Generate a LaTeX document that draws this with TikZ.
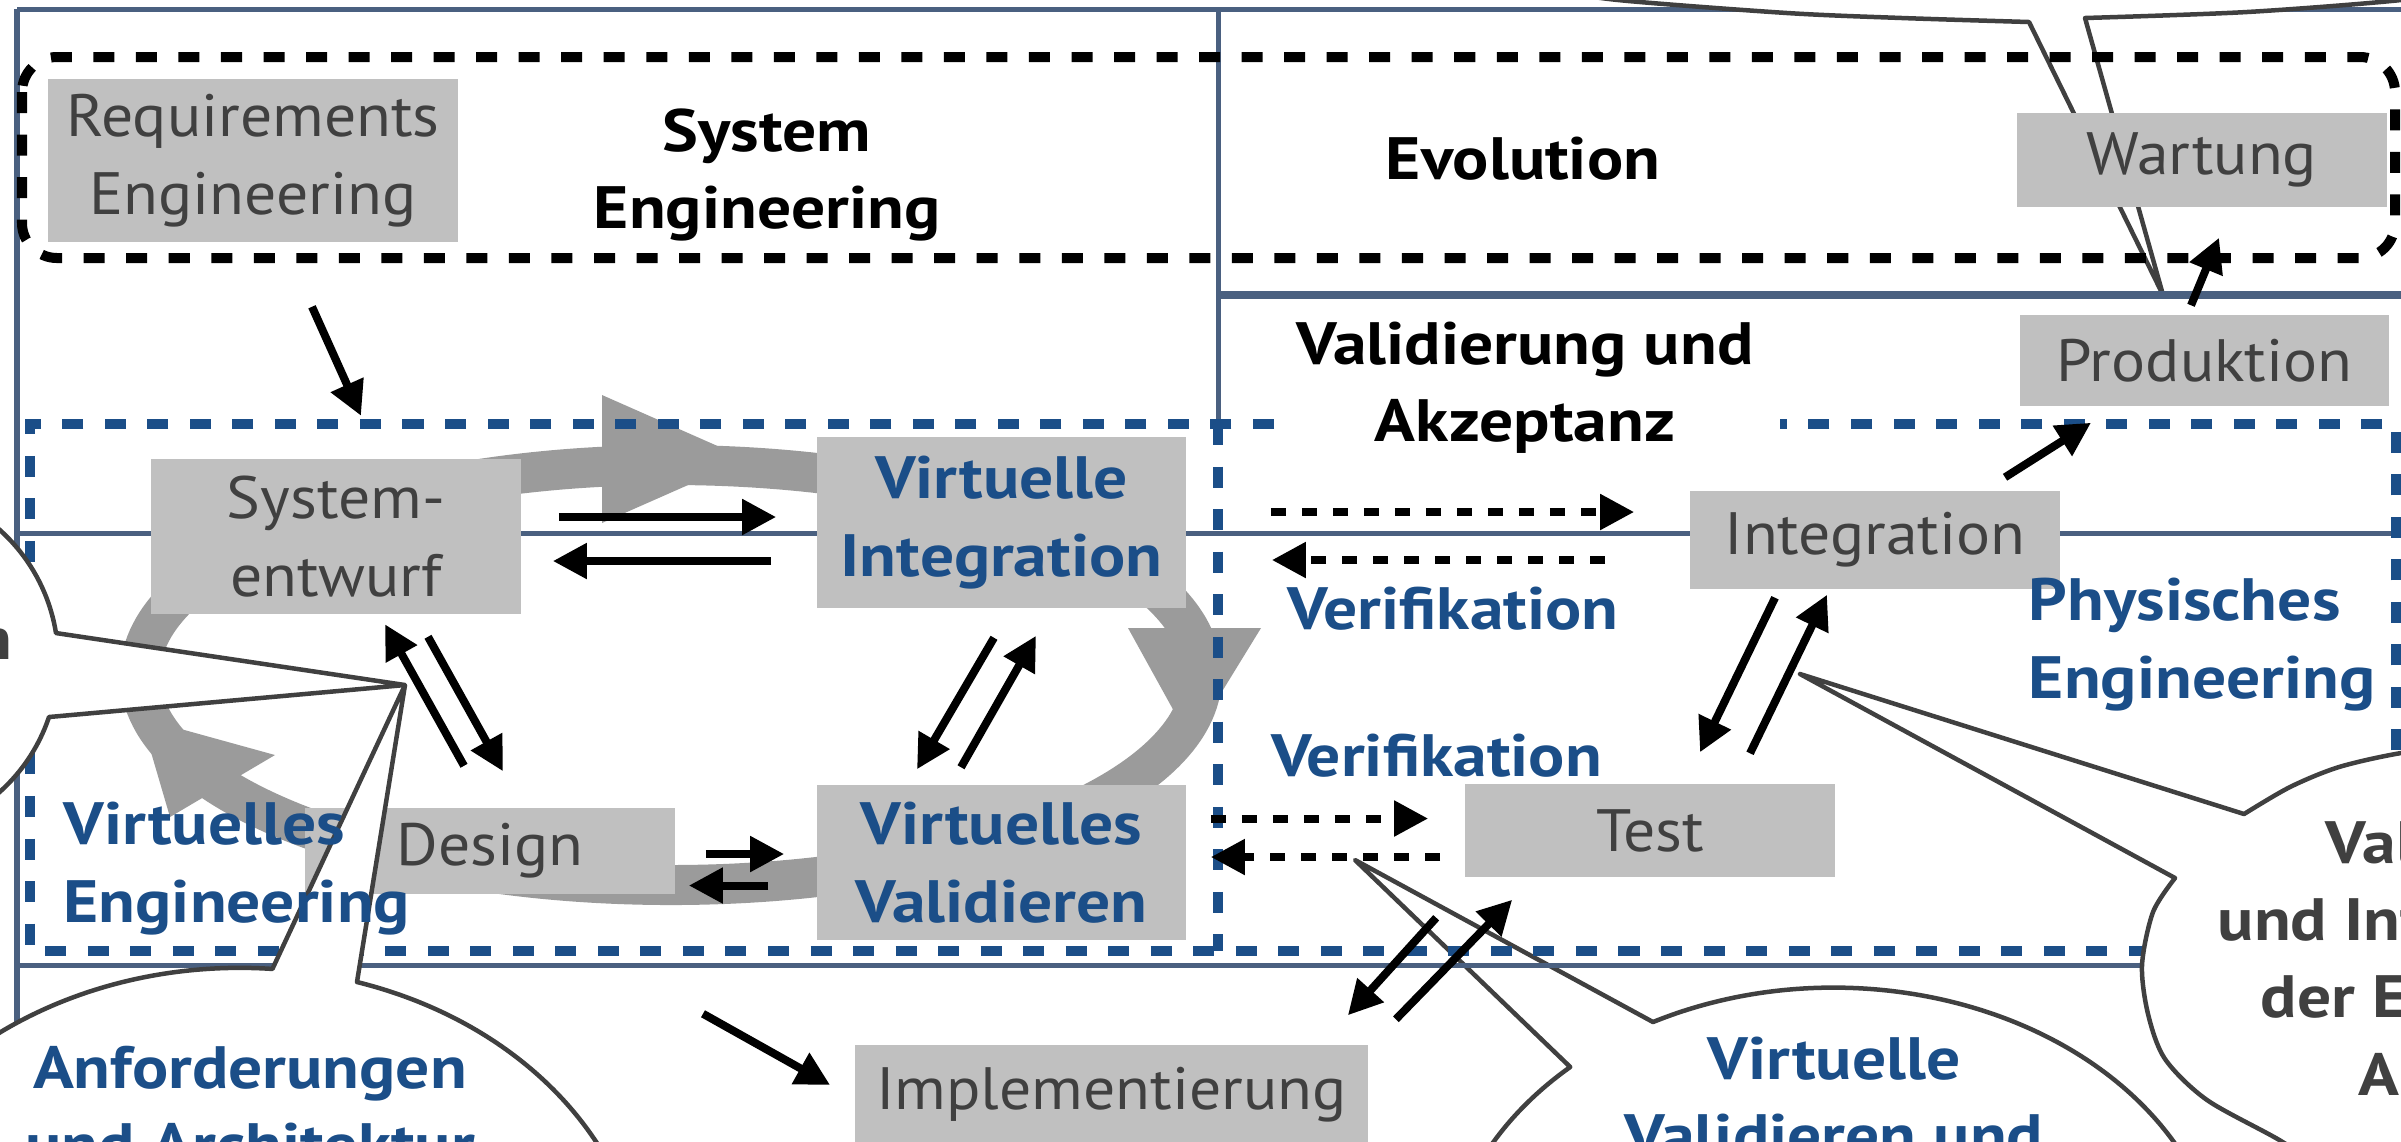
\documentclass[tikz,border=0pt]{standalone}
\usepackage{fontspec}
\setmainfont{PT Sans}[FakeStretch=1.065, BoldFeatures={FakeStretch=1.13}]
\usetikzlibrary{arrows.meta}
\definecolor{framec}{HTML}{4A6080}
\definecolor{boxgray}{HTML}{C0C0C0}
\definecolor{txtgray}{HTML}{404040}
\definecolor{deepblue}{HTML}{1B4E88}
\definecolor{ringgray}{HTML}{9B9B9B}
\newcommand{\diafont}{\fontsize{17pt}{22pt}\selectfont}
\tikzset{
  box/.style={fill=boxgray, text=txtgray, font=\diafont, align=center, inner sep=0pt},
  vbox/.style={box, text=deepblue, font=\diafont\bfseries},
  lbl/.style={font=\diafont\bfseries, align=center, inner sep=0pt},
  blbl/.style={lbl, text=deepblue},
  frame/.style={draw=framec, line width=0.05cm},
  grp/.style={line width=0.1cm, dash pattern=on 0.21cm off 0.215cm},
  ring/.style={draw=ringgray, line width=0.4cm},
  head/.style={fill=ringgray},
  arr/.style={line width=0.08cm, -{Triangle[length=0.34cm,width=0.34cm]}},
  darr/.style={arr, dash pattern=on 0.15cm off 0.16cm},
  bubble/.style={draw=txtgray, fill=white, line width=0.045cm, line join=round}
}
\begin{document}
\begin{tikzpicture}[x=0.01cm, y=-0.01cm]
  \useasboundingbox (0,0) rectangle (2401,1141);
  \clip (0,0) rectangle (2401,1141);
  \draw[frame] (17,9) -- (2401,9);
  \filldraw[bubble] plot[smooth] coordinates {(1540,-12) (1618,0) (1787,13) (1902,18) (2029,22)}
    -- (2163,295) -- plot[smooth] coordinates {(2085,18) (2247,12) (2401,0) (2470,-12)}
    -- (2470,-80) -- (1540,-80) -- cycle;
  \filldraw[bubble] (1653,1022) arc[start angle=242.4, end angle=587.5, x radius=390, y radius=302]
    -- (1355,860) -- cycle;

  \draw[frame] (17,9) -- (17,1141);
  \draw[frame] (1218,9) -- (1218,424);
  \draw[frame, line width=0.075cm] (1218,295) -- (2401,295);
  \draw[frame] (17,533) -- (2401,533);
  \draw[frame] (17,965) -- (2401,965);

  \draw[ring] (671,675) ellipse [x radius=531, y radius=210];
  \fill[head] (602,395) -- (747,459) -- (602,523) -- cycle;
  \fill[head] (1128,628) -- (1261,628) -- (1191,742) -- cycle;
  \fill[head] (275,755) -- (170,817) -- (141,718) -- cycle;

  \draw[grp, draw=deepblue] (1274,424) -- (30,424) -- (30,951) -- (2396,951) -- (2396,424) -- (1780,424);
  \draw[grp, draw=deepblue] (1218,424) -- (1218,951);
  \draw[grp, rounded corners=0.35cm] (22,57) rectangle (2395,258);

  \node[box, minimum width=4.10cm, minimum height=1.63cm] (req) at (253,160.5) {Requirements\\Engineering};
  \node[box, minimum width=3.70cm, minimum height=1.55cm] (sysent) at (336,536.5) {System-\\entwurf};
  \node[vbox, minimum width=3.69cm, minimum height=1.71cm] (vint) at (1001.5,522.5) {Virtuelle\\Integration};
  \node[box, minimum width=3.70cm, minimum height=0.86cm] (design) at (490,851) {Design};
  \node[vbox, minimum width=3.69cm, minimum height=1.55cm] (vval) at (1001.5,862.5) {Virtuelles\\Validieren};
  \node[box, minimum width=5.13cm, minimum height=1.00cm] (impl) at (1111.5,1095) {Implementierung};
  \node[box, minimum width=3.70cm, minimum height=0.93cm] (test) at (1650,830.5) {Test};
  \node[box, minimum width=3.70cm, minimum height=0.98cm] (integ) at (1875,540) {Integration};
  \node[box, minimum width=3.69cm, minimum height=0.91cm] (prod) at (2204.5,360.5) {Produktion};
  \node[box, minimum width=3.70cm, minimum height=0.94cm] (wart) at (2202,160) {Wartung};

  \node[lbl] (syseng) at (767,175) {System\\Engineering};
  \node[lbl] (evo) at (1523,158.5) {Evolution};
  \node[lbl] (valakz) at (1525,387.5) {Validierung und\\Akzeptanz};
  \node[blbl] (verif1) at (1453,608.5) {Verifikation};
  \node[blbl] (verif2) at (1436.5,755.5) {Verifikation};
  \node[blbl, anchor=west, align=left] (physeng) at (2028,644.5) {Physisches\\Engineering};

  \filldraw[bubble] (49,717) arc[start angle=18.6, end angle=350.9, radius=176] -- (405,685) -- cycle;
  \filldraw[bubble] (357,982) arc[start angle=-73.2, end angle=274.6, x radius=405, y radius=332]
    -- (405,685) -- cycle;
  \filldraw[bubble] (1800,674) -- plot[smooth] coordinates {(2244,814) (2290,787) (2339,767) (2401,753) (2470,745)}
    -- (2470,1200) -- plot[smooth] coordinates {(2330,1175) (2281,1141) (2207,1100) (2165,1059) (2148,1014) (2142,965) (2153,912) (2175,878)}
    -- cycle;

  \node[blbl, anchor=west, align=left] (virteng) at (63,868.5) {Virtuelles\\Engineering};
  \node[blbl] (anford) at (250,1106.5) {Anforderungen\\und Architektur};
  \node[blbl] (virtval) at (1834,1097) {Virtuelle\\Validieren und};
  \node[lbl, text=txtgray, anchor=base east] (nn) at (13,659) {n};
  \node[lbl, text=txtgray, anchor=base west] (val) at (2325,863) {Val};
  \node[lbl, text=txtgray, anchor=base west] (undint) at (2217,940) {und Int};
  \node[lbl, text=txtgray, anchor=base west] (dere) at (2260,1017) {der E};
  \node[lbl, text=txtgray, anchor=base west] (aa) at (2358,1095) {A};

  \draw[arr] ([shift={(59,64)}]req.south) -- ([shift={(108,173)}]req.south);
  \draw[arr] ([shift={(37,-19.5)}]sysent.east) -- ([shift={(-40,-5.5)}]vint.west);
  \draw[arr] ([shift={(-45,38.5)}]vint.west) -- ([shift={(31,24.5)}]sysent.east);
  \draw[arr] ([shift={(-26,-41.5)}]design.north) -- ([shift={(49,9.5)}]sysent.south);
  \draw[arr] ([shift={(92,22)}]sysent.south) -- ([shift={(13,-36)}]design.north);
  \draw[arr] ([shift={(-7.5,29)}]vint.south) -- ([shift={(-84.5,-15)}]vval.north);
  \draw[arr] ([shift={(-40.5,-17)}]vval.north) -- ([shift={(34.5,27)}]vint.south);
  \draw[arr] ([shift={(30,3)}]design.east) -- ([shift={(-32,-8.5)}]vval.west);
  \draw[arr] ([shift={(-48,23)}]vval.west) -- ([shift={(13,34.5)}]design.east);
  \draw[arr] ([shift={(213,119)}]design.south) -- ([shift={(-24,-10)}]impl.west);
  \draw[arr] ([shift={(130,-13)}]integ.north) -- ([shift={(-113.5,16)}]prod.south);
  \draw[arr] ([shift={(-13.5,-9)}]prod.north) -- ([shift={(17,30)}]wart.south);
  \draw[arr] ([shift={(-100,8)}]integ.south) -- ([shift={(50,-31)}]test.north);
  \draw[arr] ([shift={(100,-30)}]test.north) -- ([shift={(-48,5)}]integ.south);
  \draw[arr] ([shift={(-28,40)}]test.south west) -- ([shift={(-21,-29)}]impl.north east);
  \draw[arr] ([shift={(27,-25)}]impl.north east) -- ([shift={(48,22)}]test.south west);
  \draw[darr] ([shift={(84,-10.5)}]vint.east) -- ([shift={(-55,-28)}]integ.west);
  \draw[darr] ([shift={(-84,20)}]integ.west) -- ([shift={(85,37.5)}]vint.east);
  \draw[darr] ([shift={(24,-44)}]vval.east) -- ([shift={(-36,-12)}]test.west);
  \draw[darr] ([shift={(-24,26.5)}]test.west) -- ([shift={(24,-5.5)}]vval.east);
\end{tikzpicture}
\end{document}
